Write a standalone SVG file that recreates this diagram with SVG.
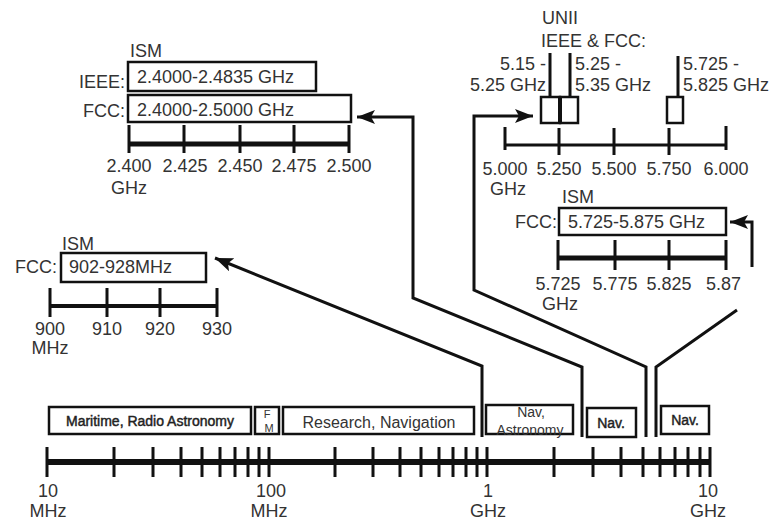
<svg xmlns="http://www.w3.org/2000/svg" width="773" height="522" viewBox="0 0 773 522">
<style>
text{font-family:"Liberation Sans",Arial,sans-serif;fill:#333;}
.l{font-size:18px;}
.m{text-anchor:middle;}
.e{text-anchor:end;}
.bx{fill:#fff;stroke:#111;stroke-width:2.5;}
.ax{stroke:#111;stroke-width:5;fill:none;}
.tk{stroke:#111;stroke-width:3;fill:none;}
.cn{stroke:#111;stroke-width:3;fill:none;stroke-linejoin:miter;}
.bl{font-size:14px;stroke:#222;stroke-width:0.45;fill:#222;}
</style>
<defs>
<marker id="ah" markerUnits="userSpaceOnUse" markerWidth="20" markerHeight="16" refX="18" refY="7" orient="auto">
<path d="M0,0 L18,7 L0,14 L4,7 z" fill="#111"/>
</marker>
</defs>

<g id="band-2400">
<text class="l" x="130" y="57">ISM</text>
<text class="l e" x="125" y="88">IEEE:</text>
<rect class="bx" x="128" y="62" width="188" height="29"/>
<text class="l" x="137" y="83">2.4000-2.4835 GHz</text>
<text class="l e" x="125" y="117">FCC:</text>
<rect class="bx" x="128" y="95" width="223" height="27"/>
<text class="l" x="137" y="116">2.4000-2.5000 GHz</text>
<line class="ax" x1="129" y1="144" x2="349" y2="144"/>
<path class="tk" d="M129,125V153M184,125V153M240,125V153M294,125V153M349,125V153"/>
<text class="l m" x="129" y="172">2.400</text>
<text class="l m" x="185" y="172">2.425</text>
<text class="l m" x="240" y="172">2.450</text>
<text class="l m" x="294" y="172">2.475</text>
<text class="l m" x="349" y="172">2.500</text>
<text class="l m" x="129" y="194">GHz</text>
</g>

<g id="band-900">
<text class="l" x="62" y="250">ISM</text>
<text class="l e" x="57" y="273">FCC:</text>
<rect class="bx" x="61" y="253" width="145" height="29"/>
<text class="l" x="69" y="273">902-928MHz</text>
<line class="tk" x1="50" y1="306" x2="217" y2="306" style="stroke-width:4"/>
<path class="tk" d="M50,288V317M107,288V317M160,288V317M217,288V317"/>
<text class="l m" x="50" y="335">900</text>
<text class="l m" x="107" y="335">910</text>
<text class="l m" x="160" y="335">920</text>
<text class="l m" x="217" y="335">930</text>
<text class="l m" x="50" y="354">MHz</text>
</g>

<g id="band-unii">
<text class="l" x="542" y="24">UNII</text>
<text class="l" x="541" y="47">IEEE &amp; FCC:</text>
<text class="l e" x="546" y="70">5.15 -</text>
<text class="l e" x="546" y="91">5.25 GHz</text>
<text class="l" x="575" y="70">5.25 -</text>
<text class="l" x="575" y="91">5.35 GHz</text>
<text class="l" x="683" y="70">5.725 -</text>
<text class="l" x="683" y="91">5.825 GHz</text>
<path class="tk" d="M550,53V97M570,53V97M678,56V97"/>
<rect class="bx" x="541" y="97" width="19" height="26"/>
<rect class="bx" x="560" y="97" width="18" height="26"/>
<line class="tk" x1="560" y1="97" x2="560" y2="123" style="stroke-width:4"/>
<rect class="bx" x="667" y="97" width="16" height="26"/>
<line class="tk" x1="505" y1="145" x2="726" y2="145"/>
<path class="tk" d="M505,127V150M559,128V155M614,128V155M669,128V155M726,126V150"/>
<text class="l m" x="505" y="175">5.000</text>
<text class="l m" x="559" y="175">5.250</text>
<text class="l m" x="614" y="175">5.500</text>
<text class="l m" x="669" y="175">5.750</text>
<text class="l m" x="726" y="175">6.000</text>
<text class="l m" x="508" y="195">GHz</text>
</g>

<g id="band-5725">
<text class="l" x="562" y="203">ISM</text>
<text class="l e" x="557" y="228">FCC:</text>
<rect class="bx" x="559" y="208" width="167" height="27"/>
<text class="l" x="568" y="228">5.725-5.875 GHz</text>
<line class="ax" x1="558" y1="258" x2="726" y2="258"/>
<path class="tk" d="M558,240V270M615,240V270M669,240V270M726,240V270"/>
<text class="l m" x="558" y="290">5.725</text>
<text class="l m" x="615" y="290">5.775</text>
<text class="l m" x="669" y="290">5.825</text>
<text class="l" x="706" y="290">5.87</text>
<text class="l m" x="560" y="310">GHz</text>
</g>

<g id="allocations">
<rect class="bx" x="49" y="407" width="202" height="27"/>
<text class="m bl" x="150" y="426">Maritime, Radio Astronomy</text>
<rect class="bx" x="255" y="407" width="24" height="27"/>
<text class="m" x="267" y="418" style="font-size:11px">F</text>
<text class="m" x="269" y="432" style="font-size:11px">M</text>
<rect class="bx" x="283" y="407" width="191" height="27"/>
<text class="m" x="379" y="428" style="font-size:16px">Research, Navigation</text>
<rect class="bx" x="486" y="405" width="87" height="29"/>
<text class="m" x="531" y="417" style="font-size:14px">Nav,</text>
<text class="m" x="530" y="435" style="font-size:14px">Astronomy</text>
<rect class="bx" x="587" y="408" width="49" height="29"/>
<text class="m bl" x="611" y="428">Nav.</text>
<rect class="bx" x="661" y="406" width="48" height="28"/>
<text class="m bl" x="685" y="425">Nav.</text>
</g>

<g id="spectrum-axis">
<line class="ax" x1="47" y1="462" x2="711" y2="462" style="stroke-width:6"/>
<path class="tk" d="M47,447V477M114,447V477M153,447V477M181,447V477M202,447V477M220,447V477M235,447V477M248,447V477M259,447V477M269,447V477M335,447V477M373,447V477M400,447V477M421,447V477M439,447V477M453,447V477M466,447V477M477,447V477M487,447V477M554,447V477M593,447V477M621,447V477M643,447V477M660,447V477M675,447V477M688,447V477M700,447V477M710,447V477"/>
<text class="l m" x="48" y="497">10</text>
<text class="l m" x="48" y="517">MHz</text>
<text class="l m" x="271" y="497">100</text>
<text class="l m" x="269" y="517">MHz</text>
<text class="l m" x="488" y="497">1</text>
<text class="l m" x="488" y="517">GHz</text>
<text class="l m" x="708" y="497">10</text>
<text class="l m" x="708" y="517">GHz</text>
</g>

<g id="connectors">
<path class="cn" d="M482,437V366L215,258" marker-end="url(#ah)"/>
<path class="cn" d="M582,437V367L413,298V117H357" marker-end="url(#ah)"/>
<path class="cn" d="M646,437V367L474,290V116H533" marker-end="url(#ah)"/>
<path class="cn" d="M656,437V367L737,310"/>
<path class="cn" d="M752,267V222H730" marker-end="url(#ah)"/>
</g>
</svg>
